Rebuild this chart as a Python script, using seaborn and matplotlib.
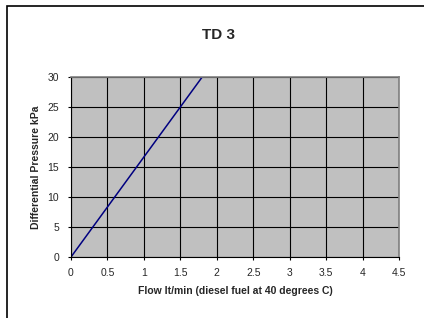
import matplotlib
matplotlib.use('Agg')

import pandas as pd
import numpy as np
import matplotlib.pyplot as plt
import seaborn as sns
from matplotlib.patches import Rectangle

flow = [0.0, 1.8]
pressure = [0.0, 30.0]
x_ticks = [0, 0.5, 1, 1.5, 2, 2.5, 3, 3.5, 4, 4.5]
x_tick_labels = ['0', '0.5', '1', '1.5', '2', '2.5', '3', '3.5', '4', '4.5']
y_ticks = [0, 5, 10, 15, 20, 25, 30]

if __name__ == "__main__":
	sns.set_style('white')
	plt.rcParams['font.family'] = ['Liberation Sans', 'DejaVu Sans']

	df = pd.DataFrame({'flow': flow, 'pressure': pressure})

	fig = plt.figure(figsize=(4.24, 3.18), dpi=100)
	fig.patches.append(Rectangle((7 / 424, -0.1), 1.2, 1.1 - 6 / 318,
		transform=fig.transFigure, fill=False, edgecolor='black', linewidth=1.2))

	ax = fig.add_axes([71 / 424, 1 - 257 / 318, 328 / 424, 180 / 318])
	ax.set_facecolor('#C0C0C0')

	sns.lineplot(data=df, x='flow', y='pressure', ax=ax, color='#000080', linewidth=1.1)

	ax.set_xlim(0, 4.5)
	ax.set_ylim(0, 30)
	ax.set_xticks(x_ticks)
	ax.set_xticklabels(x_tick_labels)
	ax.set_yticks(y_ticks)
	ax.grid(True, color='black', linewidth=0.8)
	ax.set_axisbelow(True)

	for side in ['top', 'right']:
		ax.spines[side].set_color('#808080')
		ax.spines[side].set_linewidth(1.2)
	for side in ['left', 'bottom']:
		ax.spines[side].set_color('black')
		ax.spines[side].set_linewidth(0.8)

	ax.tick_params(axis='both', direction='out', length=2.5, width=0.8, color='black',
		labelsize=7.5, bottom=True, left=True)
	ax.tick_params(axis='x', pad=5.5)
	ax.tick_params(axis='y', pad=6)

	ax.set_xlabel('Flow lt/min (diesel fuel at 40 degrees C)', fontsize=7.5, fontweight='bold', labelpad=6)
	ax.set_ylabel('Differential Pressure kPa', fontsize=7.5, fontweight='bold', labelpad=5)
	fig.text(219 / 424, 1 - 35 / 318, 'TD 3', ha='center', va='center', fontsize=11, fontweight='bold')

	fig.savefig('out.png', dpi=100)
